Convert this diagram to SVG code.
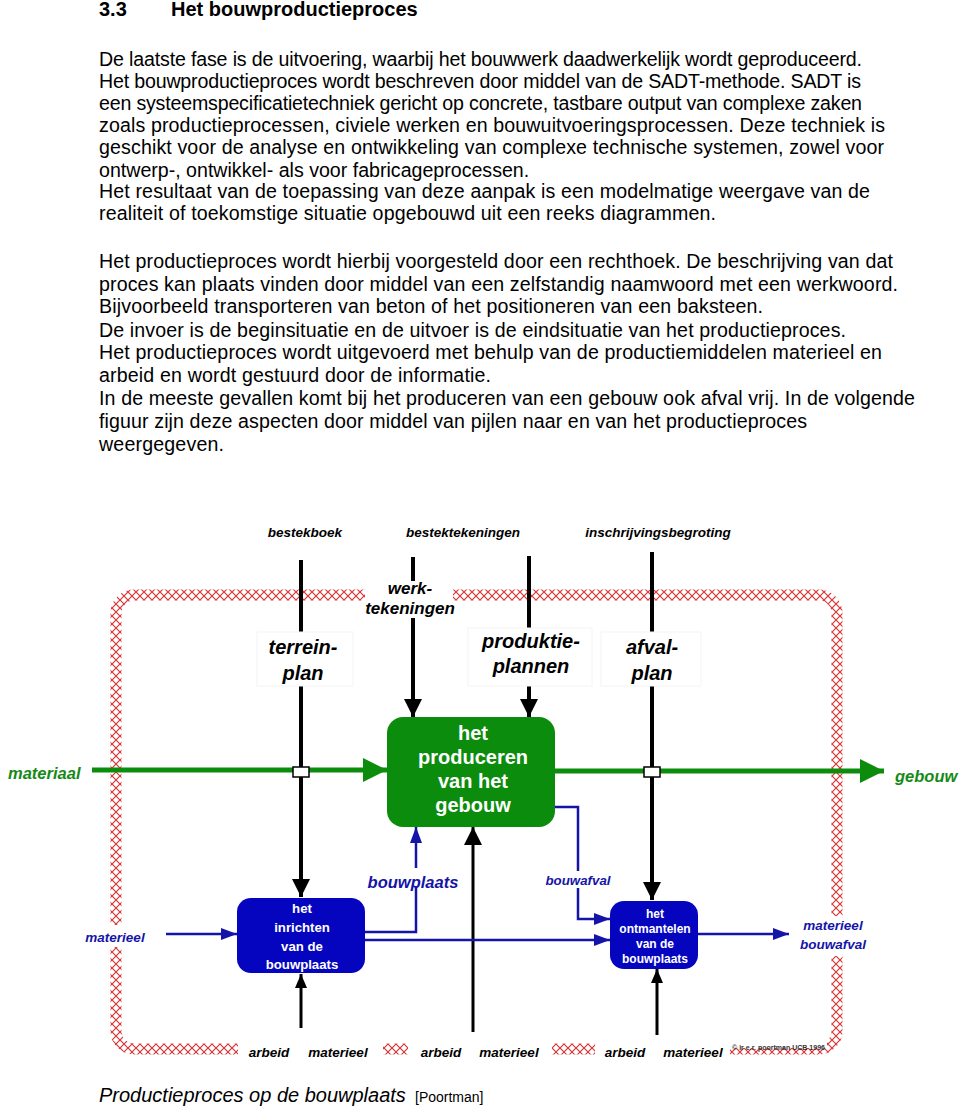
<svg xmlns="http://www.w3.org/2000/svg" width="960" height="1109" viewBox="0 0 960 1109">
<style>
.body{font-family:"Liberation Sans",Arial,sans-serif;font-size:19.6px;fill:#000}
.h{font-family:"Liberation Sans",Arial,sans-serif;font-size:20px;font-weight:bold;fill:#000}
.lbl{font-family:"Liberation Sans",Arial,sans-serif;font-weight:bold;font-style:italic;fill:#000;text-anchor:middle}
.glbl{font-family:"Liberation Sans",Arial,sans-serif;font-weight:bold;font-style:italic;fill:#168a16;font-size:16.5px}
.blbl{font-family:"Liberation Sans",Arial,sans-serif;font-weight:bold;font-style:italic;fill:#1414a8;text-anchor:middle}
.wt{font-family:"Liberation Sans",Arial,sans-serif;font-weight:bold;fill:#fff;text-anchor:middle}
.blk{fill:none;stroke:#000;stroke-width:4}
.blk3{fill:none;stroke:#000;stroke-width:3}
.grn{fill:none;stroke:#0c8c0c;stroke-width:5}
.blu{fill:none;stroke:#1414a8;stroke-width:2.5}
.border{fill:none;stroke:url(#hatch);stroke-width:11}
.lblbg{fill:#fff;stroke:#f4f4f4;stroke-width:1}
</style>
<defs>
<pattern id="hatch" patternUnits="userSpaceOnUse" width="8" height="8">
<path d="M0 0 L8 8 M8 0 L0 8" stroke="#d83434" stroke-width="1.2" fill="none"/>
</pattern>
<marker id="ab" markerUnits="userSpaceOnUse" markerWidth="18" markerHeight="18" viewBox="0 0 18 18" refX="18" refY="9" orient="auto"><path d="M0 0 L18 9 L0 18 z" fill="#000"/></marker>
<marker id="as" markerUnits="userSpaceOnUse" markerWidth="14" markerHeight="12" viewBox="0 0 14 12" refX="14" refY="6" orient="auto"><path d="M0 0 L14 6 L0 12 z" fill="#000"/></marker>
<marker id="ag" markerUnits="userSpaceOnUse" markerWidth="24" markerHeight="24" viewBox="0 0 24 24" refX="24" refY="12" orient="auto"><path d="M0 0 L24 12 L0 24 z" fill="#0c8c0c"/></marker>
<marker id="au" markerUnits="userSpaceOnUse" markerWidth="16" markerHeight="12" viewBox="0 0 16 12" refX="16" refY="6" orient="auto"><path d="M0 0 L16 6 L0 12 z" fill="#1414a8"/></marker>
</defs>
<rect width="960" height="1109" fill="#fff"/>

<g id="text">
<text class="h" x="99" y="16">3.3</text>
<text class="h" x="171" y="16">Het bouwproductieproces</text>
<text class="body" x="99" y="66" textLength="763" lengthAdjust="spacing">De laatste fase is de uitvoering, waarbij het bouwwerk daadwerkelijk wordt geproduceerd.</text>
<text class="body" x="99" y="88" textLength="762" lengthAdjust="spacing">Het bouwproductieproces wordt beschreven door middel van de SADT-methode. SADT is</text>
<text class="body" x="99" y="110" textLength="763" lengthAdjust="spacing">een systeemspecificatietechniek gericht op concrete, tastbare output van complexe zaken</text>
<text class="body" x="99" y="132" textLength="786" lengthAdjust="spacing">zoals productieprocessen, civiele werken en bouwuitvoeringsprocessen. Deze techniek is</text>
<text class="body" x="99" y="154" textLength="785" lengthAdjust="spacing">geschikt voor de analyse en ontwikkeling van complexe technische systemen, zowel voor</text>
<text class="body" x="99" y="177">ontwerp-, ontwikkel- als voor fabricageprocessen.</text>
<text class="body" x="99" y="198" textLength="771" lengthAdjust="spacing">Het resultaat van de toepassing van deze aanpak is een modelmatige weergave van de</text>
<text class="body" x="99" y="220" textLength="617" lengthAdjust="spacing">realiteit of toekomstige situatie opgebouwd uit een reeks diagrammen.</text>
<text class="body" x="99" y="268" textLength="794" lengthAdjust="spacing">Het productieproces wordt hierbij voorgesteld door een rechthoek. De beschrijving van dat</text>
<text class="body" x="99" y="291" textLength="799" lengthAdjust="spacing">proces kan plaats vinden door middel van een zelfstandig naamwoord met een werkwoord.</text>
<text class="body" x="99" y="313" textLength="664" lengthAdjust="spacing">Bijvoorbeeld transporteren van beton of het positioneren van een baksteen.</text>
<text class="body" x="99" y="337" textLength="747" lengthAdjust="spacing">De invoer is de beginsituatie en de uitvoer is de eindsituatie van het productieproces.</text>
<text class="body" x="99" y="359" textLength="783" lengthAdjust="spacing">Het productieproces wordt uitgevoerd met behulp van de productiemiddelen materieel en</text>
<text class="body" x="99" y="382" textLength="392" lengthAdjust="spacing">arbeid en wordt gestuurd door de informatie.</text>
<text class="body" x="99" y="405" textLength="816" lengthAdjust="spacing">In de meeste gevallen komt bij het produceren van een gebouw ook afval vrij. In de volgende</text>
<text class="body" x="99" y="428" textLength="708" lengthAdjust="spacing">figuur zijn deze aspecten door middel van pijlen naar en van het productieproces</text>
<text class="body" x="99" y="451" textLength="125" lengthAdjust="spacing">weergegeven.</text>
<text x="99" y="1102" style="font-family:'Liberation Sans',Arial,sans-serif;font-size:20px;font-style:italic">Productieproces op de bouwplaats</text>
<text x="415" y="1102" style="font-family:'Liberation Sans',Arial,sans-serif;font-size:14px">[Poortman]</text>
</g>

<g id="border">
<path class="border" d="M365 595 H134 A18 18 0 0 0 116 613 V925"/>
<path class="border" d="M116 947 V1031 A18 18 0 0 0 134 1049 H238"/>
<path class="border" d="M383 1049 H408"/>
<path class="border" d="M552 1049 H595"/>
<path class="border" d="M730 1049 H819 A18 18 0 0 0 837 1031 V956"/>
<path class="border" d="M837 916 V613 A18 18 0 0 0 819 595 H453"/>
<rect x="730" y="1040" width="97" height="8" fill="#fff"/>
<text x="732" y="1050" textLength="93" style="font-family:'Liberation Sans',Arial,sans-serif;font-size:7px;font-weight:bold;fill:#333">© ir e.r. poortman UCB 1996</text>
</g>

<g id="labels">
<text class="lbl" x="305" y="537" font-size="13.5">bestekboek</text>
<text class="lbl" x="463" y="537" font-size="13.5">bestektekeningen</text>
<text class="lbl" x="658" y="537" font-size="13.5">inschrijvingsbegroting</text>
<text class="lbl" x="410" y="594" font-size="17">werk-</text>
<text class="lbl" x="410" y="614" font-size="17">tekeningen</text>
<text class="lbl" x="269" y="1057" font-size="13.5">arbeid</text>
<text class="lbl" x="338" y="1057" font-size="13.5">materieel</text>
<text class="lbl" x="441" y="1057" font-size="13.5">arbeid</text>
<text class="lbl" x="509" y="1057" font-size="13.5">materieel</text>
<text class="lbl" x="625" y="1057" font-size="13.5">arbeid</text>
<text class="lbl" x="693" y="1057" font-size="13.5">materieel</text>
<text class="glbl" x="8" y="779">materiaal</text>
<text class="glbl" x="895" y="782">gebouw</text>
<text class="blbl" x="115" y="942" font-size="13.5">materieel</text>
<text class="blbl" x="413" y="888" font-size="16.5">bouwplaats</text>
<text class="blbl" x="578" y="885" font-size="13.3">bouwafval</text>
<text class="blbl" x="833" y="930" font-size="13.5">materieel</text>
<text class="blbl" x="833" y="949" font-size="13.5">bouwafval</text>
</g>

<g id="connectors">
<path class="blk" d="M301 560 V632"/>
<path class="blk" d="M301 686 V897" marker-end="url(#ab)"/>
<path class="blk" d="M413 557 V581"/>
<path class="blk" d="M413 618 V717" marker-end="url(#ab)"/>
<path class="blk" d="M529 556 V628"/>
<path class="blk" d="M529 686 V717" marker-end="url(#ab)"/>
<path class="blk" d="M652 552 V632"/>
<path class="blk" d="M652 686 V900" marker-end="url(#ab)"/>
<path class="blk3" d="M301 1028 V974" marker-end="url(#as)"/>
<path class="blk3" d="M473 1032 V827" marker-end="url(#ab)"/>
<path class="blk3" d="M657 1035 V969" marker-end="url(#as)"/>
<path class="grn" d="M92 770 H387" marker-end="url(#ag)"/>
<path class="grn" d="M555 771 H884" marker-end="url(#ag)"/>
<rect x="293" y="767" width="16" height="10" fill="#fff" stroke="#000" stroke-width="1.5"/>
<rect x="644" y="767" width="16" height="10" fill="#fff" stroke="#000" stroke-width="1.5"/>
<path class="blu" d="M166 934 H237" marker-end="url(#au)"/>
<path class="blu" d="M365 932 H416 V886"/>
<path class="blu" d="M416 868 V827" marker-end="url(#au)"/>
<path class="blu" d="M365 940 H610" marker-end="url(#au)"/>
<path class="blu" d="M555 807 H578 V871"/>
<path class="blu" d="M578 888 V919 H610" marker-end="url(#au)"/>
<path class="blu" d="M698 934 H789" marker-end="url(#au)"/>
</g>

<g id="terreinplan">
<rect class="lblbg" x="257" y="632" width="96" height="54"/>
<text class="lbl" x="303" y="654" font-size="20">terrein-</text>
<text class="lbl" x="303" y="680" font-size="20">plan</text>
</g>
<g id="produktieplannen">
<rect class="lblbg" x="468" y="628" width="124" height="58"/>
<text class="lbl" x="531" y="648" font-size="20">produktie-</text>
<text class="lbl" x="531" y="673" font-size="20">plannen</text>
</g>
<g id="afvalplan">
<rect class="lblbg" x="601" y="632" width="100" height="54"/>
<text class="lbl" x="652" y="654" font-size="20">afval-</text>
<text class="lbl" x="652" y="680" font-size="20">plan</text>
</g>

<g id="produceren">
<rect x="387" y="717" width="168" height="110" rx="16" fill="#0c8c0c"/>
<text class="wt" x="473" y="740" font-size="20">het</text>
<text class="wt" x="473" y="764" font-size="20">produceren</text>
<text class="wt" x="473" y="788" font-size="20">van het</text>
<text class="wt" x="473" y="812" font-size="20">gebouw</text>
</g>
<g id="inrichten">
<rect x="237" y="898" width="128" height="75" rx="14" fill="#0505c0"/>
<text class="wt" x="302" y="913" font-size="13.2">het</text>
<text class="wt" x="302" y="932" font-size="13.2">inrichten</text>
<text class="wt" x="302" y="951" font-size="13.2">van de</text>
<text class="wt" x="302" y="969" font-size="13.2">bouwplaats</text>
</g>
<g id="ontmantelen">
<rect x="610" y="901" width="88" height="68" rx="14" fill="#0505c0"/>
<text class="wt" x="655" y="918" font-size="12">het</text>
<text class="wt" x="655" y="933" font-size="12">ontmantelen</text>
<text class="wt" x="655" y="948" font-size="12">van de</text>
<text class="wt" x="655" y="963" font-size="12">bouwplaats</text>
</g>
</svg>
